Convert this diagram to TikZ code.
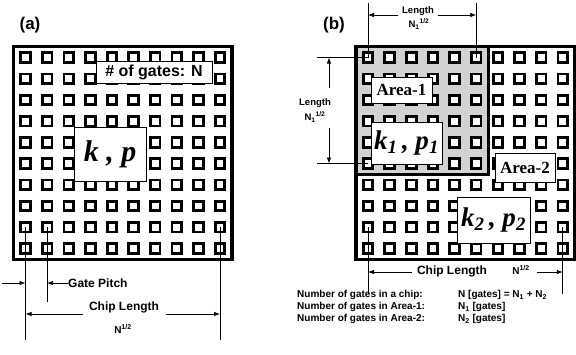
\documentclass[tikz,border=0pt]{standalone}
\usepackage{fontspec}
\setmainfont{Liberation Serif}
\setsansfont{Liberation Sans}
\usetikzlibrary{arrows.meta,positioning,calc}
\tikzset{
  chip/.style={draw, line width=3.5pt},
  gate/.style={draw, line width=2.8pt, fill=white},
  lbl/.style={draw, line width=0.9pt, fill=white, inner sep=0pt},
  area/.style={font=\fontsize{17}{20}\selectfont\bfseries},
  kp/.style={font=\fontsize{30}{34}\selectfont\bfseries\itshape},
  kpsub/.style={font=\fontsize{27}{30}\selectfont\bfseries\itshape},
  panel/.style={font=\sffamily\bfseries\fontsize{17}{20}\selectfont},
  dimtext/.style={font=\sffamily\bfseries\fontsize{12}{14}\selectfont, inner sep=0pt},
  smalltext/.style={font=\sffamily\bfseries\fontsize{9.5}{11}\selectfont, inner sep=0pt},
  legend/.style={font=\sffamily\bfseries\fontsize{10}{12}\selectfont, anchor=west, inner sep=0pt},
  dim/.style={line width=0.8pt},
  arr/.style={-{Latex[length=6pt,width=4.5pt]}, line width=0.8pt}
}

\begin{document}
\begin{tikzpicture}[x=1pt,y=-1pt]
\useasboundingbox (0,0) rectangle (576,354);

% panel labels
\node[panel] (la) at (30,25) {(a)};
\node[panel] (lb) at (334,25) {(b)};

% area-1 shading
\fill[gray!35] (356,46.5) rectangle (488.5,174.5);

% gate grids
\foreach \i in {0,...,9}
  \foreach \j in {0,...,9} {
    \draw[gate] ({25.5+21.6*\i-4.8},{57.5+21.2*\j-4.8}) rectangle ++(9.6,9.6);
    \draw[gate] ({368+21.65*\i-4.8},{57.5+21.2*\j-4.8}) rectangle ++(9.6,9.6);
  }

% chip (a)
\node[lbl, minimum width=116pt, minimum height=22pt, font=\sffamily\bfseries\fontsize{16}{19}\selectfont] (ngates) at (154,72) {\# of gates: N};
\node[lbl, kp, minimum width=72pt, minimum height=54pt] (kp) at (110,154) {k , p};

% chip (b)
\node[lbl, area, minimum width=61pt, minimum height=26pt] (area1) at (401.5,90) {Area-1};
\node[lbl, kpsub, minimum width=71pt, minimum height=42pt] (kp1) at (406.5,143) {k\textsubscript{1}\,, p\textsubscript{1}};
\node[lbl, area, minimum width=60pt, minimum height=29pt] (area2) at (525,167.5) {Area-2};
\node[lbl, kpsub, minimum width=73pt, minimum height=46pt] (kp2) at (493.5,220) {k\textsubscript{2}\,, p\textsubscript{2}};

\draw[line width=3pt] (356,174.5) -- (488.5,174.5) -- (488.5,46.5);
\draw[chip] (13.5,46.5) rectangle (232,259.5);
\draw[chip] (356,46.5) rectangle (574.3,259.5);

% dimensions (a)
\coordinate (a1top) at (25.5,227.1);
\coordinate (a1bot) at (25.5,340);
\coordinate (a2top) at (47.1,227.1);
\coordinate (a2bot) at (47.1,302);
\coordinate (a10top) at (220,227.1);
\coordinate (a10bot) at (220,340);
\draw[dim] (a1top) -- (a1bot);
\draw[dim] (a2top) -- (a2bot);
\draw[dim] (a10top) -- (a10bot);

\node[dimtext, anchor=west] (pitch) at (68,283) {Gate Pitch};
\coordinate (pitchL) at (2,283);
\draw[arr] (pitchL) -- (a1bot |- pitchL);
\draw[arr] (pitch.west) -- (a2bot |- pitch.west);

\node[dimtext] (clen) at (124,307) {Chip Length};
\node[smalltext, font=\sffamily\bfseries\fontsize{10}{12}\selectfont] (nroot) at (123,329) {N\textsuperscript{1/2}};
\coordinate (clenL) at (83,314);
\coordinate (clenR) at (166,314);
\draw[arr] (clenL) -- (a1bot |- clenL);
\draw[arr] (clenR) -- (a10bot |- clenR);

% dimensions (b), top
\coordinate (t1) at (368,3);
\coordinate (t6) at (476.25,3);
\coordinate (b11) at (368,57.5);
\coordinate (b16) at (476.25,57.5);
\coordinate (b61) at (368,163.5);
\draw[dim] (t1) -- (b11);
\draw[dim] (t6) -- (b16);
\node[smalltext] (toplen) at (418,11) {Length};
\node[smalltext] (topn) at (419,24) {N\textsubscript{1}\textsuperscript{1/2}};
\coordinate (tl) at (398,15);
\coordinate (tr) at (438,15);
\draw[arr] (tl) -- (t1 |- tl);
\draw[arr] (tr) -- (t6 |- tr);

% dimensions (b), left
\coordinate (l1) at (317,57.5);
\coordinate (l6) at (317,163.5);
\draw[dim] (l1) -- (b11);
\draw[dim] (l6) -- (b61);
\node[smalltext] (leftlen) at (315,103) {Length};
\node[smalltext] (leftn) at (315,117) {N\textsubscript{1}\textsuperscript{1/2}};
\coordinate (lu) at (329,88);
\coordinate (ld) at (329,128);
\draw[arr] (lu) -- (lu |- l1);
\draw[arr] (ld) -- (ld |- l6);

% dimensions (b), bottom
\coordinate (bb1t) at (368,227.1);
\coordinate (bb1b) at (368,294);
\coordinate (bb10t) at (562.85,227.1);
\coordinate (bb10b) at (562.85,294);
\draw[dim] (bb1t) -- (bb1b);
\draw[dim] (bb10t) -- (bb10b);
\node[dimtext] (clenb) at (452,271) {Chip Length};
\node[smalltext, font=\sffamily\bfseries\fontsize{10}{12}\selectfont] (nrootb) at (521,270) {N\textsuperscript{1/2}};
\coordinate (cbL) at (412,272);
\coordinate (cbR) at (537,272);
\draw[arr] (cbL) -- (bb1t |- cbL);
\draw[arr] (cbR) -- (bb10t |- cbR);

% legend
\node[legend] (lg1) at (297,295) {Number of gates in a chip:};
\node[legend] (lg2) at (297,307) {Number of gates in Area-1:};
\node[legend] (lg3) at (297,319) {Number of gates in Area-2:};
\node[legend] (lv1) at (458,295) {N [gates] = N\textsubscript{1} + N\textsubscript{2}};
\node[legend] (lv2) at (458,307) {N\textsubscript{1} [gates]};
\node[legend] (lv3) at (458,319) {N\textsubscript{2} [gates]};
\end{tikzpicture}
\end{document}
